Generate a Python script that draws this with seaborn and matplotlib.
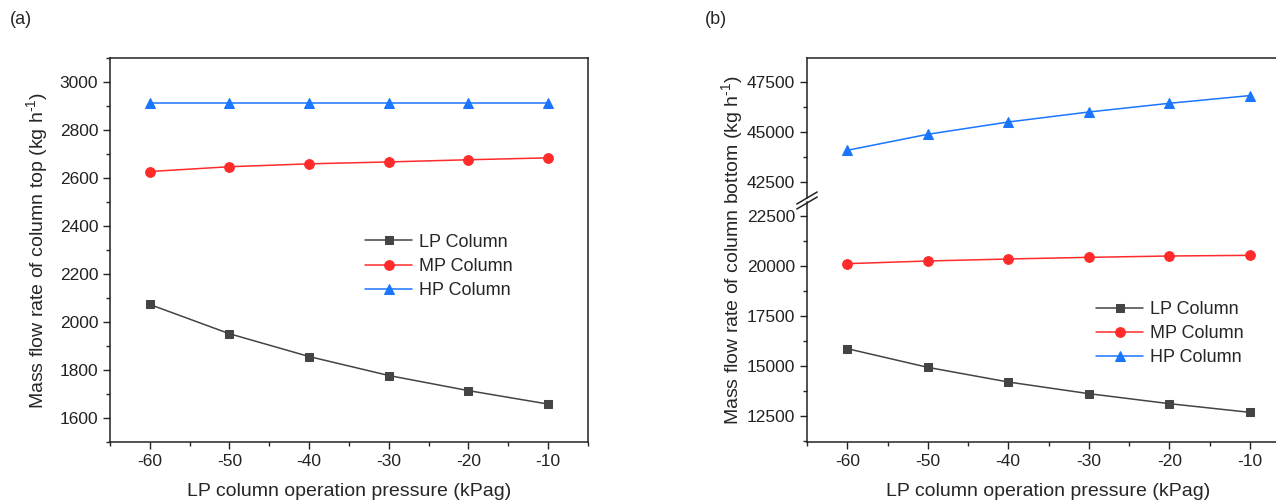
import numpy as np
import pandas as pd
import seaborn as sns
import matplotlib.pyplot as plt
from matplotlib.ticker import MultipleLocator

# data
pressure = [-60, -50, -40, -30, -20, -10]
top_lp = [2073, 1951, 1856, 1777, 1714, 1658]
top_mp = [2627, 2647, 2659, 2667, 2676, 2684]
top_hp = [2911, 2911, 2911, 2911, 2911, 2911]
bot_lp = [15867, 14933, 14200, 13617, 13117, 12683]
bot_mp = [20117, 20250, 20350, 20433, 20500, 20533]
bot_hp = [44085, 44885, 45500, 46000, 46435, 46820]

names = ['LP Column', 'MP Column', 'HP Column']
colors = ['#444444', '#ff2b2b', '#1a75ff']
markers = ['s', 'o', '^']
msizes = [6, 7, 7]

sns.set_theme(style="ticks")
plt.rcParams['font.family'] = ['Liberation Sans', 'DejaVu Sans']
plt.rcParams['axes.linewidth'] = 1.1
plt.rcParams['axes.unicode_minus'] = False
plt.rcParams['mathtext.fontset'] = 'custom'
plt.rcParams['mathtext.rm'] = 'Liberation Sans'

W, H = 1276, 501
fig = plt.figure(figsize=(W / 100, H / 100), dpi=100)


def frac(x0, y0, x1, y1):
    return [x0 / W, 1 - y1 / H, (x1 - x0) / W, (y1 - y0) / H]


def draw(ax, series):
    for vals, name, c, m, ms in zip(series, names, colors, markers, msizes):
        df = pd.DataFrame({'p': pressure, 'v': vals})
        sns.lineplot(data=df, x='p', y='v', ax=ax, color=c, marker=m,
                     markersize=ms, markeredgecolor=c, linewidth=1.1,
                     label=name, legend=False)


def style(ax, bottom=True):
    ax.set_xlim(-65, -5)
    ax.xaxis.set_major_locator(MultipleLocator(10))
    ax.xaxis.set_minor_locator(MultipleLocator(5))
    ax.tick_params(axis='both', which='major', direction='out', length=5,
                   width=1, labelsize=12.5, colors='#222222')
    ax.tick_params(axis='both', which='minor', direction='out', length=3,
                   width=1)
    ax.tick_params(top=False, right=False, which='both')
    for s in ax.spines.values():
        s.set_color('#222222')
    ax.set_xlabel('')
    ax.set_ylabel('')
    if not bottom:
        ax.tick_params(axis='x', which='both', bottom=False, labelbottom=False)


# (a) column top
ax1 = fig.add_axes(frac(110, 58, 588, 442))
draw(ax1, [top_lp, top_mp, top_hp])
style(ax1)
ax1.set_ylim(1500, 3100)
ax1.yaxis.set_major_locator(MultipleLocator(200))
ax1.yaxis.set_minor_locator(MultipleLocator(100))
ax1.set_xlabel('LP column operation pressure (kPag)', fontsize=14, labelpad=10)
ax1.set_ylabel(r'Mass flow rate of column top (kg h$^{\text{-1}}$)', fontsize=14, labelpad=6)
ax1.legend(loc='upper left', bbox_to_anchor=(0.5, 0.585), frameon=False,
           fontsize=13, handlelength=2.6, handletextpad=0.4, labelspacing=0.4)

# (b) column bottom with broken axis
ax_up = fig.add_axes(frac(807, 58, 1290, 198))
ax_lo = fig.add_axes(frac(807, 202, 1290, 442))
draw(ax_up, [bot_lp, bot_mp, bot_hp])
draw(ax_lo, [bot_lp, bot_mp, bot_hp])
style(ax_up, bottom=False)
style(ax_lo)
ax_up.set_ylim(41700, 48700)
ax_lo.set_ylim(11200, 23200)
for a in (ax_up, ax_lo):
    a.yaxis.set_major_locator(MultipleLocator(2500))
    a.yaxis.set_minor_locator(MultipleLocator(1250))
ax_up.spines['bottom'].set_visible(False)
ax_lo.spines['top'].set_visible(False)

# break marks on the left spine
kw = dict(color='#222222', lw=1.1, clip_on=False)
bx = 807 / W
for yb in (198, 203):
    yf = 1 - yb / H
    fig.add_artist(plt.Line2D([bx - 0.008, bx + 0.008], [yf - 0.012, yf + 0.012],
                              transform=fig.transFigure, **kw))

ax_lo.set_xlabel('LP column operation pressure (kPag)', fontsize=14, labelpad=10)
fig.text(733 / W, 0.5 * (1 - 58 / H + 1 - 442 / H),
         r'Mass flow rate of column bottom (kg h$^{\text{-1}}$)', fontsize=14,
         rotation=90, va='center', ha='center')
ax_lo.legend(loc='upper left', bbox_to_anchor=(0.565, 0.655), frameon=False,
             fontsize=13, handlelength=2.6, handletextpad=0.4, labelspacing=0.4)

fig.text(10 / W, 1 - 20 / H, '(a)', fontsize=13, va='center', ha='left')
fig.text(705 / W, 1 - 20 / H, '(b)', fontsize=13, va='center', ha='left')

fig.savefig('out.png', dpi=100, facecolor='white')
